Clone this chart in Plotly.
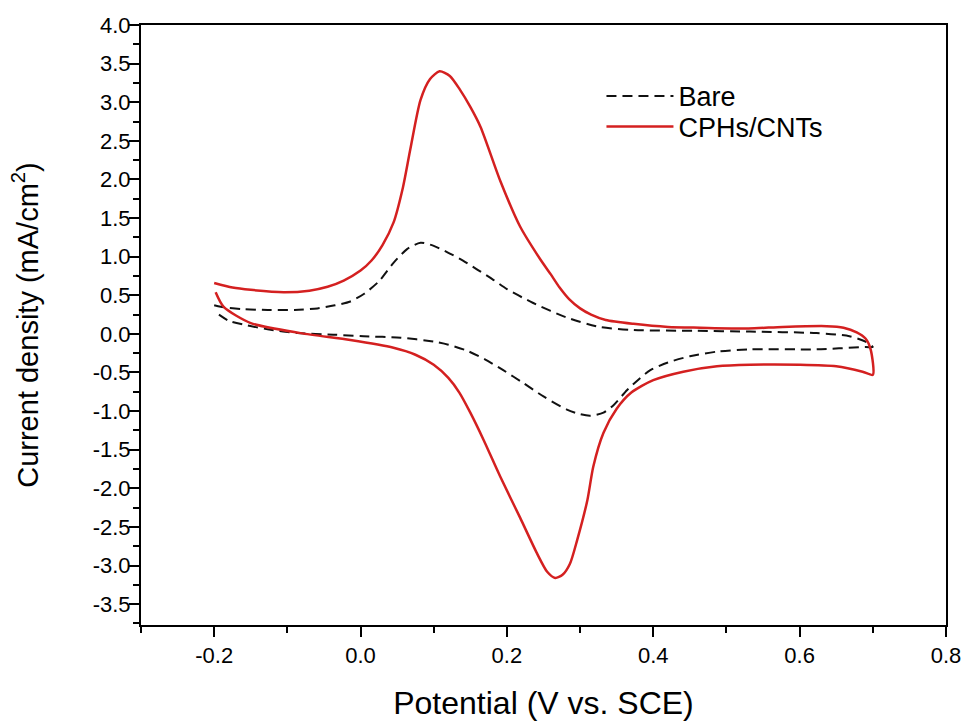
import plotly.graph_objects as go

# ---- data ----
# Bare electrode: forward (anodic) sweep then reverse (cathodic) sweep
bare_fwd_x = [-0.200, -0.191, -0.160, -0.127, -0.090, -0.059, -0.035, -0.014, 0.005, 0.025,
              0.045, 0.064, 0.082, 0.100, 0.120, 0.140, 0.160, 0.180, 0.200, 0.236,
              0.282, 0.327, 0.373, 0.455, 0.532, 0.623, 0.668, 0.690, 0.700]
bare_fwd_y = [0.37, 0.35, 0.32, 0.31, 0.31, 0.33, 0.37, 0.42, 0.52, 0.68,
              0.92, 1.10, 1.18, 1.14, 1.05, 0.95, 0.83, 0.71, 0.58, 0.40,
              0.21, 0.09, 0.05, 0.04, 0.03, 0.01, -0.03, -0.10, -0.17]
bare_rev_x = [0.690, 0.623, 0.532, 0.487, 0.450, 0.420, 0.396, 0.380, 0.364, 0.346,
              0.332, 0.314, 0.300, 0.282, 0.250, 0.223, 0.195, 0.170, 0.146, 0.120,
              0.100, 0.055, 0.004, -0.037, -0.086, -0.127, -0.155, -0.180, -0.198]
bare_rev_y = [-0.17, -0.20, -0.20, -0.23, -0.29, -0.37, -0.47, -0.59, -0.73, -0.92,
              -1.02, -1.06, -1.04, -0.98, -0.81, -0.64, -0.47, -0.33, -0.22, -0.14,
              -0.10, -0.05, -0.03, -0.01, 0.01, 0.06, 0.11, 0.17, 0.28]

# CPHs/CNTs modified electrode
cnt_fwd_x = [-0.200, -0.175, -0.150, -0.105, -0.070, -0.045, -0.023, 0.000, 0.015, 0.030,
             0.045, 0.058, 0.068, 0.082, 0.095, 0.108, 0.122, 0.136, 0.150, 0.164,
             0.191, 0.218, 0.246, 0.260, 0.272, 0.285, 0.300, 0.315, 0.335, 0.373,
             0.420, 0.464, 0.530, 0.577, 0.637, 0.660, 0.678, 0.690, 0.697, 0.700]
cnt_fwd_y = [0.66, 0.60, 0.57, 0.54, 0.56, 0.61, 0.69, 0.82, 0.95, 1.15,
             1.44, 1.90, 2.39, 3.03, 3.30, 3.40, 3.34, 3.16, 2.94, 2.68,
             1.98, 1.39, 0.96, 0.77, 0.60, 0.45, 0.33, 0.25, 0.18, 0.13,
             0.09, 0.08, 0.07, 0.09, 0.10, 0.08, 0.02, -0.06, -0.20, -0.53]
cnt_rev_x = [0.686, 0.650, 0.600, 0.532, 0.487, 0.441, 0.400, 0.370, 0.350, 0.332,
             0.318, 0.310, 0.296, 0.286, 0.276, 0.266, 0.255, 0.241, 0.218, 0.191,
             0.168, 0.150, 0.135, 0.120, 0.100, 0.075, 0.045, -0.014, -0.082, -0.150,
             -0.187, -0.198]
cnt_rev_y = [-0.49, -0.42, -0.40, -0.40, -0.42, -0.49, -0.60, -0.76, -0.97, -1.28,
             -1.72, -2.15, -2.67, -2.98, -3.12, -3.16, -3.08, -2.84, -2.38, -1.85,
             -1.37, -1.02, -0.76, -0.57, -0.40, -0.27, -0.18, -0.08, 0.01, 0.14,
             0.35, 0.54]

x_ticks = [-0.2, 0.0, 0.2, 0.4, 0.6, 0.8]
y_ticks = [-3.5, -3.0, -2.5, -2.0, -1.5, -1.0, -0.5, 0.0, 0.5, 1.0, 1.5, 2.0, 2.5, 3.0, 3.5, 4.0]

FONT = "Liberation Sans, Arial, sans-serif"

fig = go.Figure()
fig.add_trace(go.Scatter(
    x=bare_fwd_x + bare_rev_x, y=bare_fwd_y + bare_rev_y,
    mode="lines", name="Bare", legend="legend",
    line=dict(color="#111111", width=2, dash="10px,6px", shape="spline", smoothing=0.7),
))
fig.add_trace(go.Scatter(
    x=cnt_fwd_x + cnt_rev_x, y=cnt_fwd_y + cnt_rev_y,
    mode="lines", name="CPHs/CNTs", legend="legend2",
    line=dict(color="#d42020", width=2.5, shape="spline", smoothing=0.7),
))

axis_common = dict(
    showline=True, linecolor="black", linewidth=2, mirror=True,
    ticks="outside", ticklen=10, tickwidth=2, tickcolor="black",
    showgrid=False, zeroline=False, automargin=False,
    tickfont=dict(family=FONT, size=22, color="black"),
)

fig.update_xaxes(
    range=[-0.3, 0.8], tickvals=x_ticks, ticktext=[f"{v:.1f}" for v in x_ticks],
    minor=dict(dtick=0.1, tick0=0, ticks="outside", ticklen=6, tickwidth=2, tickcolor="black"),
    title=dict(text="Potential (V vs. SCE)", font=dict(family=FONT, size=32, color="black"), standoff=24),
    **axis_common,
)
fig.update_yaxes(
    range=[-3.77, 4.0], tickvals=y_ticks, ticktext=[f"{v:.1f}" for v in y_ticks],
    minor=dict(dtick=0.25, tick0=0, ticks="outside", ticklen=6, tickwidth=2, tickcolor="black"),
    ticklabelstandoff=-6,
    title=dict(text="Current density (mA/cm<sup>2</sup>)", font=dict(family=FONT, size=29, color="black"), standoff=46),
    **axis_common,
)

legend_common = dict(
    xanchor="left", yanchor="middle", bgcolor="rgba(0,0,0,0)",
    font=dict(family=FONT, size=27, color="black"), itemwidth=67,
)

fig.update_layout(
    width=966, height=722,
    margin=dict(l=141, r=20, t=25, b=97),
    paper_bgcolor="white", plot_bgcolor="white",
    showlegend=True,
    legend=dict(x=0.572, y=0.881, **legend_common),
    legend2=dict(x=0.572, y=0.830, **legend_common),
)

# remove the default 8px page margin so the figure fills the window exactly
fig.write_html(
    "out.html",
    config={"displayModeBar": False},
    post_script="document.body.style.margin='0';document.body.style.overflow='hidden';",
)
